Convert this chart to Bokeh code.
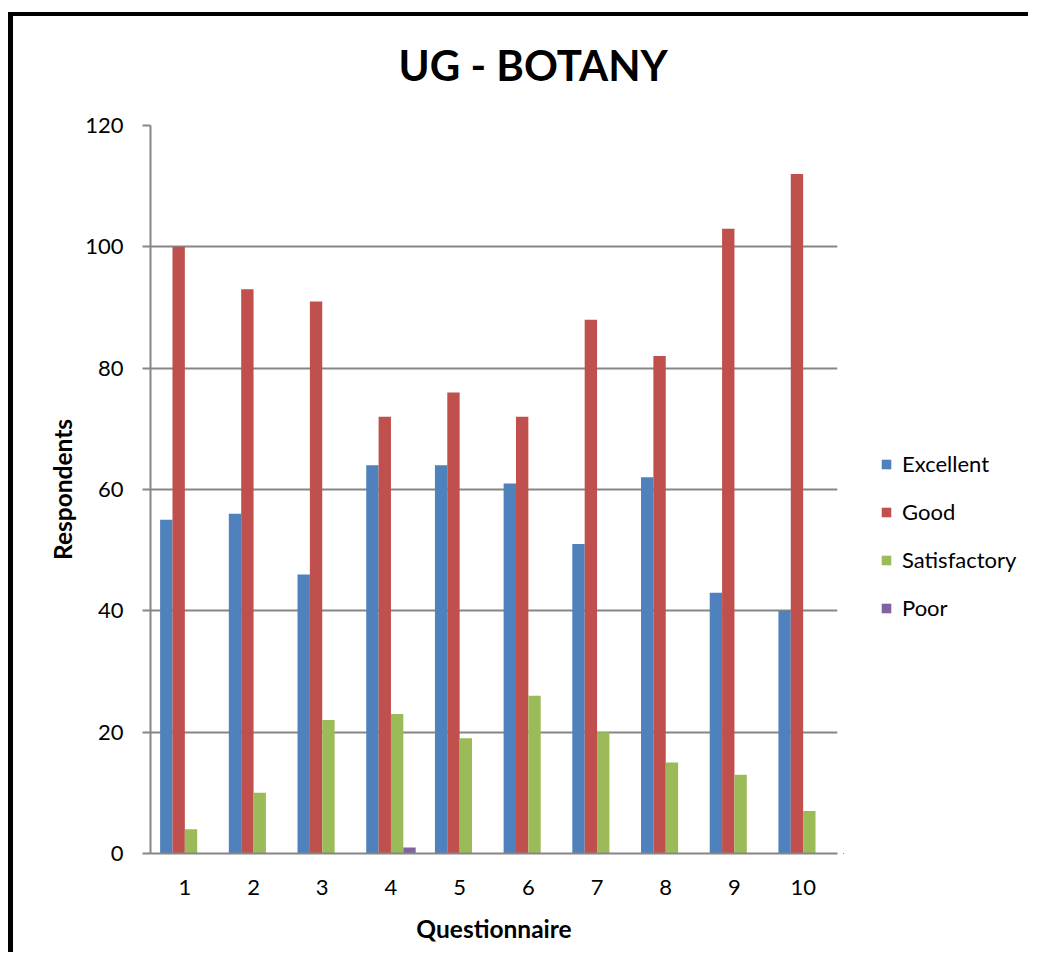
from bokeh.plotting import figure
from bokeh.layouts import row
from bokeh.models import Range1d, FixedTicker, Legend, LegendItem, ColumnDataSource
from bokeh.transform import dodge
from bokeh.embed import file_html
from bokeh.resources import INLINE

questions = [1, 2, 3, 4, 5, 6, 7, 8, 9, 10]
excellent = [55, 56, 46, 64, 64, 61, 51, 62, 43, 40]
good = [100, 93, 91, 72, 76, 72, 88, 82, 103, 112]
satisfactory = [4, 10, 22, 23, 19, 26, 20, 15, 13, 7]
poor = [0, 0, 0, 1, 0, 0, 0, 0, 0, 0]
series_names = ["Excellent", "Good", "Satisfactory", "Poor"]
y_ticks = [0, 20, 40, 60, 80, 100, 120]

colors = ["#4F81BD", "#C0504D", "#9BBB59", "#8064A2"]
FONT = "Lato"
GRID = "#868686"

src = ColumnDataSource(dict(q=questions, Excellent=excellent, Good=good,
                            Satisfactory=satisfactory, Poor=poor))

H = 940
p = figure(width=830, height=955, output_backend="svg", toolbar_location=None,
           x_range=Range1d(0.5, 10.5), y_range=Range1d(0, 120),
           min_border_left=137, min_border_top=124, min_border_right=6,
           min_border_bottom=103)
p.margin = (-15, 0, 0, 0)

p.title.text = "UG -  BOTANY"
p.title.text_font = FONT
p.title.text_font_size = "42px"
p.title.text_font_style = "bold"
p.title.text_color = "#000000"
p.title.align = "left"
p.title.offset = 248
p.title.standoff = 72

bw = 0.18
offsets = [-1.5 * bw, -0.5 * bw, 0.5 * bw, 1.5 * bw]
for name, col, off in zip(series_names, colors, offsets):
    p.vbar(x=dodge("q", off), top=name, width=bw, source=src,
           fill_color=col, line_color=None)

# axes
p.xaxis.ticker = FixedTicker(ticks=questions)
p.yaxis.ticker = FixedTicker(ticks=y_ticks)
for ax in (p.xaxis[0], p.yaxis[0]):
    ax.axis_line_color = GRID
    ax.axis_line_width = 2
    ax.major_label_text_font = FONT
    ax.major_label_text_font_size = "22px"
    ax.major_label_text_color = "#000000"
    ax.axis_label_text_font = FONT
    ax.axis_label_text_font_size = "24.5px"
    ax.axis_label_text_font_style = "bold"
    ax.axis_label_text_color = "#000000"
    ax.minor_tick_line_color = None

p.xaxis.axis_label = "Questionnaire"
p.xaxis.major_tick_line_color = None
p.xaxis.major_label_standoff = 20
p.xaxis.axis_label_standoff = 16

p.yaxis.axis_label = "Respondents"
p.yaxis.major_tick_line_color = GRID
p.yaxis.major_tick_line_width = 2
p.yaxis.major_tick_in = 0
p.yaxis.major_tick_out = 8
p.yaxis.major_label_standoff = 19
p.yaxis.axis_label_standoff = 5

p.xgrid.grid_line_color = None
p.ygrid.grid_line_color = GRID
p.ygrid.grid_line_width = 2
p.outline_line_color = None
p.background_fill_color = "#FFFFFF"
p.border_fill_alpha = 0

# legend panel: a separate figure so the legend sits outside the plot area;
# its bars use the same data but lie outside this panel's ranges (only legend shows)
lg = figure(width=190, height=H, output_backend="svg", toolbar_location=None,
            x_axis_type=None, y_axis_type=None,
            x_range=Range1d(100, 101), y_range=Range1d(500, 501),
            min_border=0)
lg.xgrid.grid_line_color = None
lg.ygrid.grid_line_color = None
lg.outline_line_color = None
lg.background_fill_color = "#FFFFFF"
lg.border_fill_color = "#FFFFFF"
leg_renderers = []
for name, col, off in zip(series_names, colors, offsets):
    r = lg.vbar(x=dodge("q", off), top=name, width=bw, source=src,
                fill_color=col, line_color=None)
    leg_renderers.append(r)

legend = Legend(items=[LegendItem(label=n, renderers=[r]) for n, r in zip(series_names, leg_renderers)],
                location=(37, 232))
legend.padding = 0
legend.margin = 0
legend.spacing = 21
legend.glyph_width = 12
legend.glyph_height = 12
legend.label_height = 24
legend.label_standoff = 10
legend.label_text_font = FONT
legend.label_text_font_size = "22px"
legend.label_text_color = "#000000"
legend.border_line_color = None
legend.background_fill_alpha = 0
lg.add_layout(legend, "center")

layout = row(p, lg)
layout.margin = (16, 0, 0, 13)
layout.styles = {"box-shadow": "-5px -4px 0 0 #000000"}

open("out.html", "w").write(file_html(layout, INLINE))
